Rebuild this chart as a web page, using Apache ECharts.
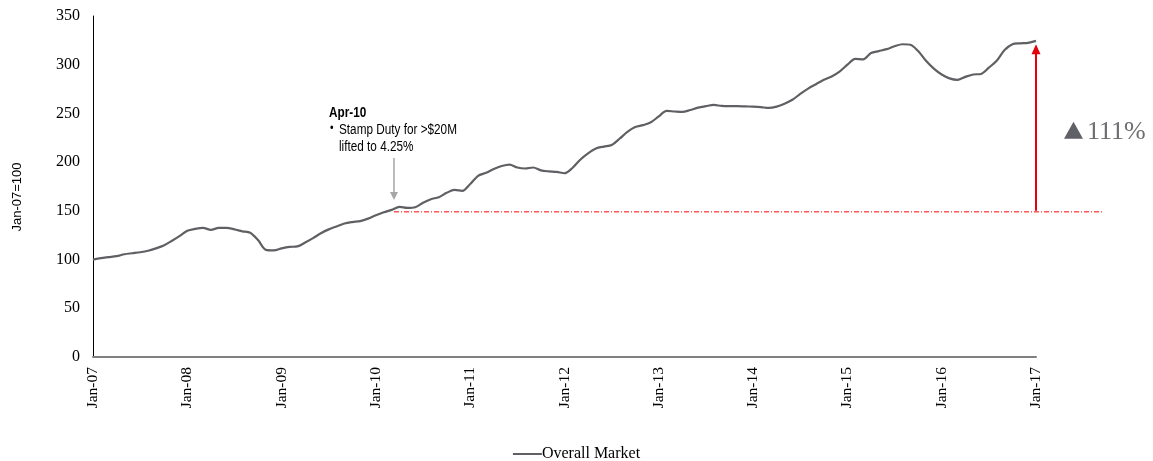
<!DOCTYPE html>
<html><head><meta charset="utf-8">
<script src="https://cdn.jsdelivr.net/npm/echarts@6/dist/echarts.min.js"></script>
<style>html,body{margin:0;padding:0;background:#fff}#c{width:1153px;height:461px}</style>
</head><body><div id="c"></div>
<script>
// ---- data ----
const years = ['07','08','09','10','11','12','13','14','15','16'];
const finalCategory = 'Jan-17';
const monthNames = ['Jan','Feb','Mar','Apr','May','Jun','Jul','Aug','Sep','Oct','Nov','Dec'];
const indexValues = [
  100, 101.5, 102.5, 103.5, 105.5, 106.5, 107.5, 109, 111.5, 114.5, 119, 124,
  129.5, 131.5, 132.5, 130.5, 132.5, 132.5, 131, 129, 127.5, 120, 110, 109.5,
  111.5, 113, 113.5, 117.5, 122, 127, 131, 134, 137, 138.5, 139.5, 142,
  145.5, 148.5, 151, 154, 153, 153.7, 158.4, 162, 164, 168.5, 171.5, 170.5,
  177.5, 186, 189, 193, 196, 197.5, 194.5, 193.5, 194.5, 191.5, 190.5, 190,
  188.6, 194, 202.5, 209, 214, 216, 217.5, 224, 231, 236, 238, 241,
  247, 252.6, 252, 251.5, 253.5, 256, 257.5, 258.7, 257.7, 257.5, 257.5, 257.2,
  257, 256.5, 255.6, 257, 260, 264, 270, 275.5, 280, 284.5, 288, 293,
  300, 306, 305.5, 312, 314, 316, 319, 321, 320.5, 314, 304, 296,
  290, 286, 284.5, 287.5, 290, 290.5, 297, 304, 315, 321, 322, 322.5,
  324.5
];
const yMin = 0, yMax = 350, yInterval = 50;
const seriesName = 'Overall Market';
const yAxisTitle = 'Jan-07=100';
const baseValue = 150;          // reference level (Apr-10)
const arrowTopValue = 316;      // centre of the red arrow head
const eventIndex = 38;          // Mar/Apr-10 start of reference line
const annotationTitle = 'Apr-10';
const annotationLines = ['Stamp Duty for >$20M', 'lifted to 4.25%'];
const changeLabel = '111%';

// categories
const categories = [];
years.forEach(y => monthNames.forEach(m => categories.push(m + '-' + y)));
categories.push(finalCategory);
const lastIdx = categories.length - 1;

// ---- chart ----
const chart = echarts.init(document.getElementById('c'), null, {renderer: 'canvas'});
const serif = '"Liberation Serif", "Times New Roman", serif';
const sans = '"Liberation Sans", Arial, sans-serif';
const lineColor = '#5f6063';
const red = '#e3000f';

chart.setOption({
  animation: false,
  grid: {left: 93, right: 117, top: 16, bottom: 104, outerBoundsMode: 'none'},
  legend: {
    data: [seriesName], top: 441, left: 'center', icon: 'rect',
    itemWidth: 29, itemHeight: 2, itemGap: 0,
    textStyle: {fontFamily: serif, fontSize: 16, color: '#000', padding: [0, 0, 0, -5]}
  },
  xAxis: {
    type: 'category', data: categories, boundaryGap: false,
    axisLine: {lineStyle: {color: '#808080', width: 2}},
    axisTick: {show: false}, splitLine: {show: false},
    axisLabel: {interval: 11, rotate: 90, fontFamily: serif, fontSize: 15.5, color: '#000', margin: 10}
  },
  yAxis: {
    type: 'value', min: yMin, max: yMax, interval: yInterval,
    axisLine: {show: true, lineStyle: {color: '#000', width: 1}},
    axisTick: {show: false}, splitLine: {show: false},
    axisLabel: {fontFamily: serif, fontSize: 16, color: '#000', margin: 13}
  },
  series: [{
    name: seriesName, type: 'line', data: indexValues, smooth: 0.3,
    showSymbol: false, symbol: 'none',
    lineStyle: {color: lineColor, width: 2.2}, itemStyle: {color: lineColor},
    markLine: {
      silent: true, symbol: ['none', 'triangle'], symbolSize: [9, 10],
      label: {show: false}, lineStyle: {color: red, width: 2, type: 'solid'},
      emphasis: {disabled: true},
      data: [[{coord: [categories[lastIdx], baseValue]}, {coord: [categories[lastIdx], arrowTopValue]}]]
    }
  }]
});

// ---- annotations placed via the chart's own scales ----
const px = (i, v) => chart.convertToPixel({seriesIndex: 0}, [i, v]);
const pBase = px(eventIndex, baseValue);
const pEnd = px(lastIdx, baseValue);
const step = px(1, 0)[0] - px(0, 0)[0];
const lineStartX = pBase[0] + 0.3 * step;
const annX = lineStartX;
const pEvt = px(eventIndex + 1, indexValues[eventIndex + 1]);
const pTop = px(lastIdx, indexValues[lastIdx]);
const midY = (pTop[1] + pBase[1]) / 2;

const graphic = [
  // red dash-dot reference line
  {type: 'line', silent: true, shape: {x1: lineStartX, y1: pBase[1] + 1, x2: pEnd[0] + 67, y2: pBase[1] + 1},
   style: {stroke: '#ff0000', lineWidth: 1, lineDash: [5, 2, 1, 2]}, z: 5},
  // grey annotation arrow
  {type: 'line', silent: true, shape: {x1: annX, y1: pEvt[1] - 49, x2: annX, y2: pEvt[1] - 14},
   style: {stroke: '#a6a6a6', lineWidth: 1.5}, z: 5},
  {type: 'polygon', silent: true, shape: {points: [[annX - 4, pEvt[1] - 15], [annX + 4, pEvt[1] - 15], [annX, pEvt[1] - 7]]},
   style: {fill: '#a6a6a6'}, z: 5},
  // annotation text
  {type: 'text', silent: true, x: annX - 65, y: pEvt[1] - 101, scaleX: 0.84, originX: 0,
   style: {text: annotationTitle, font: 'bold 14px ' + sans, fill: '#000', textVerticalAlign: 'top'}, z: 5},
  {type: 'text', silent: true, x: annX - 64, y: pEvt[1] - 84, scaleX: 0.84, originX: 0,
   style: {text: '\u2022', font: '12px ' + sans, fill: '#000', textVerticalAlign: 'top'}, z: 5},
  {type: 'text', silent: true, x: annX - 55, y: pEvt[1] - 84, scaleX: 0.84, originX: 0,
   style: {text: annotationLines[0], font: '14px ' + sans, fill: '#000', textVerticalAlign: 'top'}, z: 5},
  {type: 'text', silent: true, x: annX - 55, y: pEvt[1] - 67, scaleX: 0.84, originX: 0,
   style: {text: annotationLines[1], font: '14px ' + sans, fill: '#000', textVerticalAlign: 'top'}, z: 5},
  // change label
  {type: 'polygon', silent: true,
   shape: {points: [[pTop[0] + 28, midY + 13], [pTop[0] + 47, midY + 13], [pTop[0] + 37.5, midY - 4]]},
   style: {fill: '#5f6166'}, z: 5},
  {type: 'text', silent: true, x: pTop[0] + 51, y: midY + 6,
   style: {text: changeLabel, font: '26px ' + serif, fill: '#6d6e71', textVerticalAlign: 'middle'}, z: 5},
  // y axis title
  {type: 'text', silent: true, x: 17, y: 197, rotation: Math.PI / 2,
   style: {text: yAxisTitle, font: '13px ' + sans, fill: '#000', textAlign: 'center', textVerticalAlign: 'middle'}, z: 5}
];
chart.setOption({graphic: graphic});
</script>
</body></html>
